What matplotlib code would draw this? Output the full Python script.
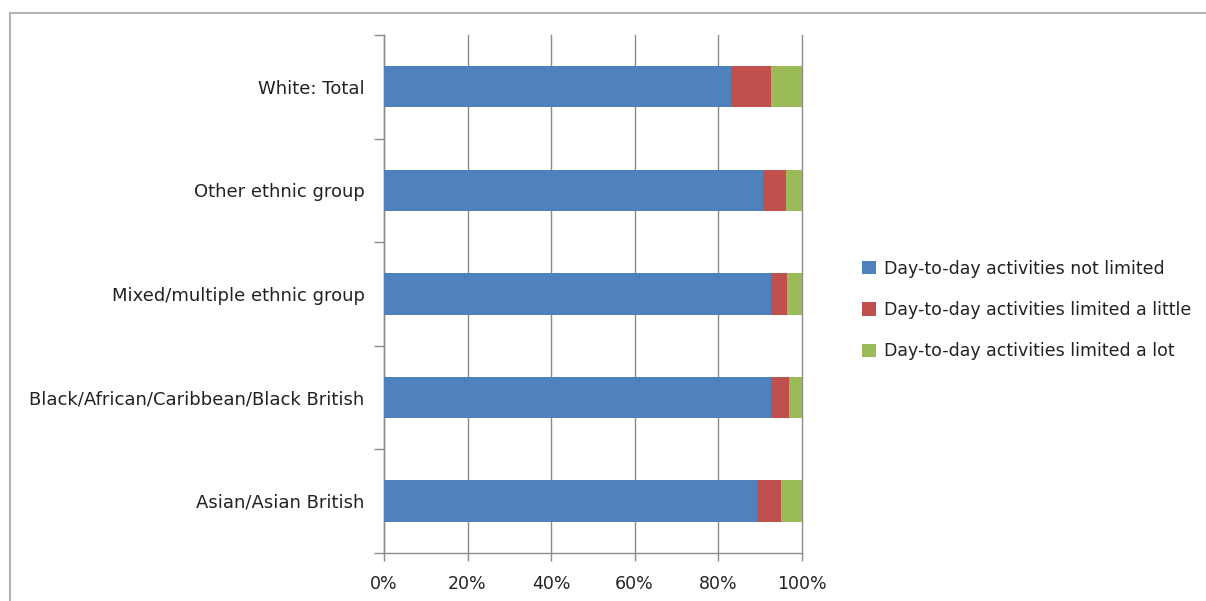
import matplotlib.pyplot as plt
from matplotlib.patches import Patch
from matplotlib.lines import Line2D

# groups listed bottom to top
groups = ['Asian/Asian British', 'Black/African/Caribbean/Black British',
          'Mixed/multiple ethnic group', 'Other ethnic group', 'White: Total']
not_limited = [89.4, 92.7, 92.7, 90.7, 83.1]
limited_little = [5.7, 4.3, 3.9, 5.6, 9.55]
limited_lot = [4.9, 3.0, 3.4, 3.7, 7.35]
series_names = ['Day-to-day activities not limited',
                'Day-to-day activities limited a little',
                'Day-to-day activities limited a lot']
colors = ['#4F81BD', '#C0504D', '#9BBB59']
grid_col = '#8C8C8C'

plt.rcParams['font.family'] = ['DejaVu Sans']

fig = plt.figure(figsize=(12.06, 6.01), dpi=100)
ax = fig.add_axes([384 / 1206, 1 - 552.7 / 601, (801.7 - 384) / 1206, (552.7 - 35) / 601])

y = range(len(groups))
left = [0] * len(groups)
for vals, col, name in zip([not_limited, limited_little, limited_lot], colors, series_names):
    ax.barh(y, vals, left=left, height=0.4, color=col, label=name, zorder=3)
    left = [a + b for a, b in zip(left, vals)]

ax.set_xlim(0, 100)
ax.set_ylim(-0.5, len(groups) - 0.5)
ax.set_xticks(range(0, 101, 20))
ax.set_xticklabels([f'{v}%' for v in range(0, 101, 20)], fontsize=12.5, color='#222222')
ax.set_yticks(list(y))
ax.set_yticklabels(groups, fontsize=13, color='#222222')
ax.set_yticks([i - 0.5 for i in range(len(groups) + 1)], minor=True)
ax.tick_params(axis='y', which='major', length=0, pad=14)
ax.tick_params(axis='y', which='minor', length=7, color=grid_col, width=1)
ax.tick_params(axis='x', length=6, color=grid_col, width=1, pad=10)
ax.xaxis.grid(True, color=grid_col, linewidth=1, zorder=0)
for gl in ax.get_xgridlines():
    gl.set_clip_on(False)
for side in ['top', 'right']:
    ax.spines[side].set_visible(False)
for side in ['left', 'bottom']:
    ax.spines[side].set_color(grid_col)
    ax.spines[side].set_linewidth(1)

handles = [Patch(facecolor=c, edgecolor='none') for c in colors]
fig.legend(handles, series_names, loc='center left',
           bbox_to_anchor=(846 / 1206, 1 - 310 / 601), frameon=False,
           fontsize=12.5, handlelength=0.8, handleheight=0.8,
           handletextpad=0.5, labelspacing=1.35, labelcolor='#222222')

# chart area border
bx, by = 10 / 1206, 1 - 13 / 601
fig.add_artist(Line2D([bx, bx], [0, by], color='#B4B4B4', linewidth=1.5))
fig.add_artist(Line2D([bx, 1], [by, by], color='#B4B4B4', linewidth=1.5))

fig.savefig('out.png', dpi=100)
